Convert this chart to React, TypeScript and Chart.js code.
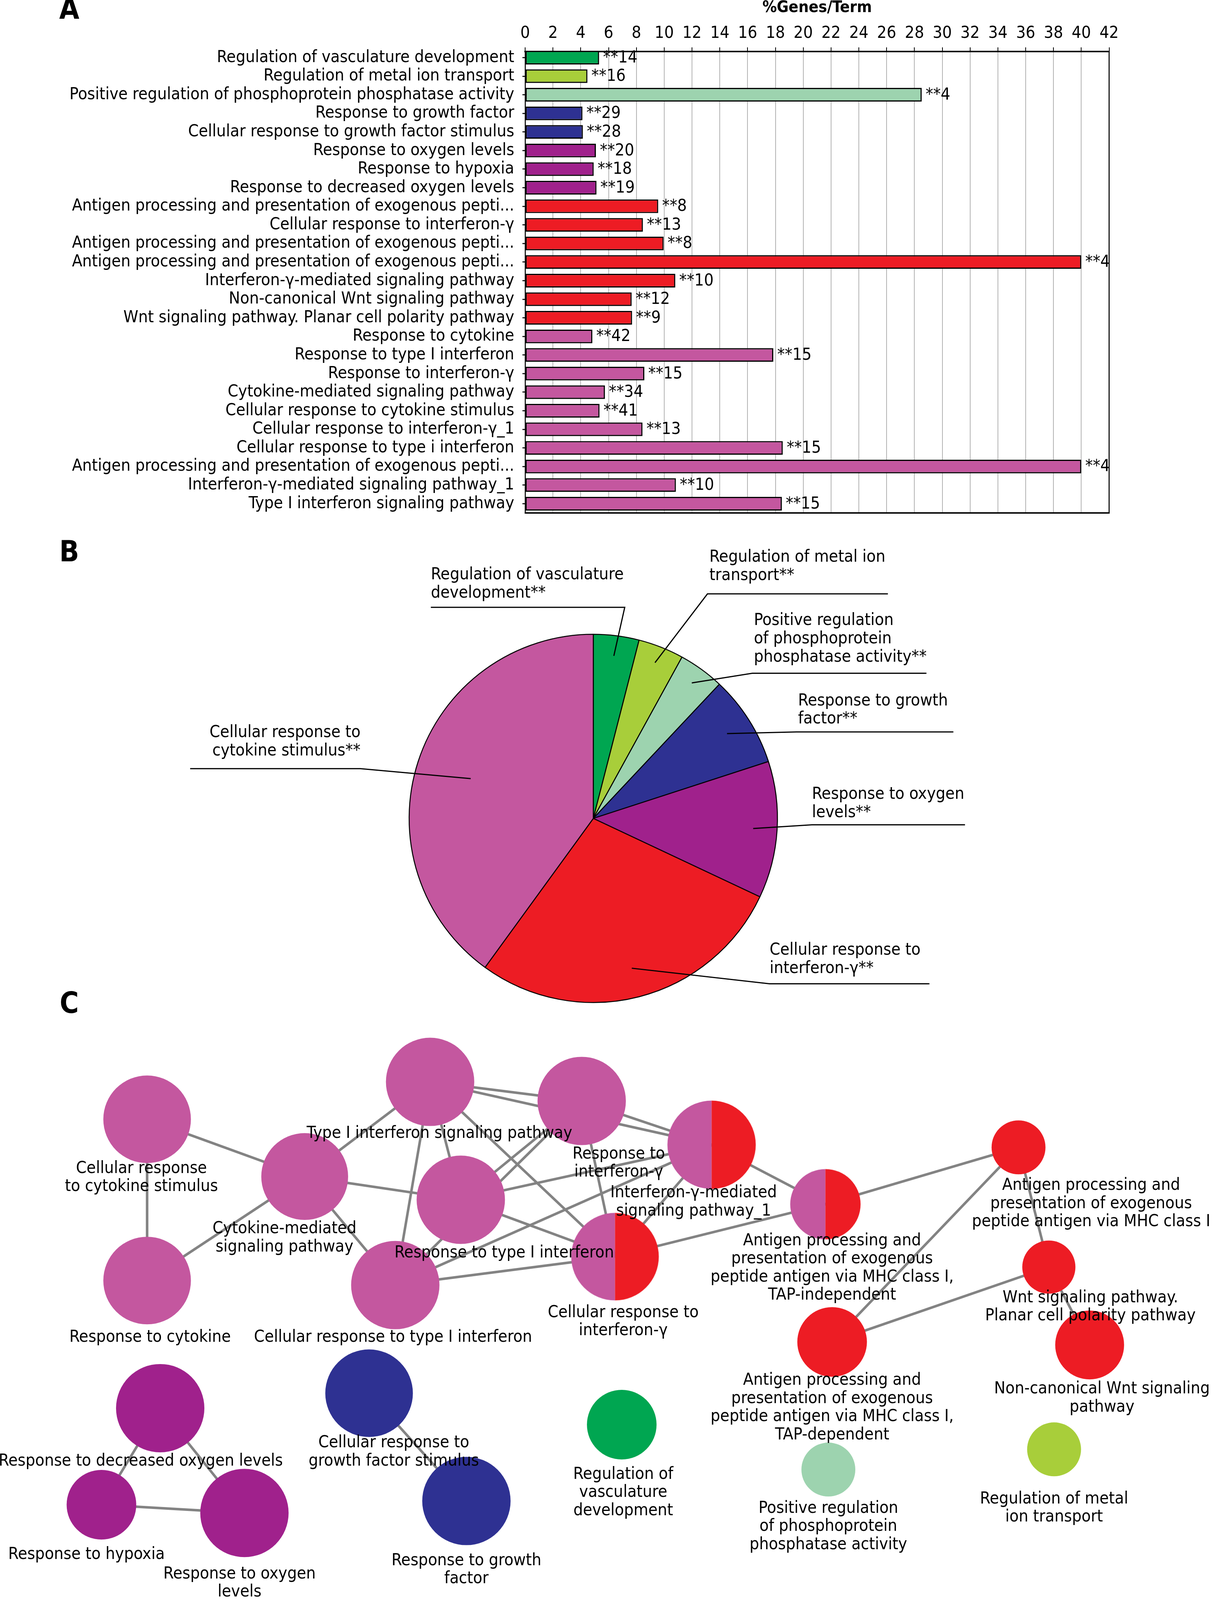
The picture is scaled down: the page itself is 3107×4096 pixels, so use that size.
import React, { useEffect, useRef } from "react";
import { Chart, registerables } from "chart.js";

Chart.register(...registerables);

// ---------- global geometry (reference px -> window px) ----------
const S = 0.958;
const W = 3107;
const H = 4096;
const FONT = "'DejaVu Sans Condensed', 'Liberation Sans Narrow', 'DejaVu Sans', sans-serif";
const FS = 43;

// ---------- Panel A data ----------
const categories = [
  "Regulation of vasculature development",
  "Regulation of metal ion transport",
  "Positive regulation of phosphoprotein phosphatase activity",
  "Response to growth factor",
  "Cellular response to growth factor stimulus",
  "Response to oxygen levels",
  "Response to hypoxia",
  "Response to decreased oxygen levels",
  "Antigen processing and presentation of exogenous pepti...",
  "Cellular response to interferon-γ",
  "Antigen processing and presentation of exogenous pepti...",
  "Antigen processing and presentation of exogenous pepti...",
  "Interferon-γ-mediated signaling pathway",
  "Non-canonical Wnt signaling pathway",
  "Wnt signaling pathway. Planar cell polarity pathway",
  "Response to cytokine",
  "Response to type I interferon",
  "Response to interferon-γ",
  "Cytokine-mediated signaling pathway",
  "Cellular response to cytokine stimulus",
  "Cellular response to interferon-γ_1",
  "Cellular response to type i interferon",
  "Antigen processing and presentation of exogenous pepti...",
  "Interferon-γ-mediated signaling pathway_1",
  "Type I interferon signaling pathway",
];
const percentGenes = [
  5.32, 4.48, 28.52, 4.12, 4.15, 5.09, 4.93, 5.13, 9.57, 8.47, 9.96, 40.0, 10.8,
  7.66, 7.69, 4.83, 17.85, 8.57, 5.74, 5.35, 8.44, 18.53, 40.0, 10.84, 18.46,
];
const geneCounts = [
  14, 16, 4, 29, 28, 20, 18, 19, 8, 13, 8, 4, 10, 12, 9, 42, 15, 15, 34, 41, 13, 15, 4, 10, 15,
];
const categoryGroup = [0, 1, 2, 3, 3, 4, 4, 4, 5, 5, 5, 5, 5, 5, 5, 6, 6, 6, 6, 6, 6, 6, 6, 6, 6];
const xAxisMin = 0;
const xAxisMax = 42;
const xAxisStep = 2;

const groupColors = ["#00A651", "#A8CE3A", "#9DD3AF", "#2E3192", "#A0218C", "#ED1C24", "#C4579F"];
const SPLIT = 7; // node drawn half pink / half red

// ---------- Panel B data ----------
const pieCategoryLines = [
  ["Regulation of vasculature", "development**"],
  ["Regulation of metal ion", "transport**"],
  ["Positive regulation", "of phosphoprotein", "phosphatase activity**"],
  ["Response to growth", "factor**"],
  ["Response to oxygen", "levels**"],
  ["Cellular response to", "interferon-γ**"],
  ["Cellular response to", "cytokine stimulus**"],
];
const pieTermCounts = [1, 1, 1, 2, 3, 7, 10];

// ---------- Panel C data ----------
const nodeLabelLines = [
  ["Cellular response", "to cytokine stimulus"],
  ["Response to cytokine"],
  ["Cytokine-mediated", "signaling pathway"],
  ["Type I interferon signaling pathway"],
  ["Response to", "interferon-γ"],
  ["Interferon-γ-mediated", "signaling pathway_1"],
  ["Response to type I interferon"],
  ["Cellular response to type I interferon"],
  ["Cellular response to", "interferon-γ"],
  ["Antigen processing and", "presentation of exogenous", "peptide antigen via MHC class I,", "TAP-independent"],
  ["Antigen processing and", "presentation of exogenous", "peptide antigen via MHC class I"],
  ["Wnt signaling pathway.", "Planar cell polarity pathway"],
  ["Antigen processing and", "presentation of exogenous", "peptide antigen via MHC class I,", "TAP-dependent"],
  ["Non-canonical Wnt signaling", "pathway"],
  ["Response to decreased oxygen levels"],
  ["Response to hypoxia"],
  ["Response to oxygen", "levels"],
  ["Cellular response to", "growth factor stimulus"],
  ["Response to growth", "factor"],
  ["Regulation of", "vasculature", "development"],
  ["Positive regulation", "of phosphoprotein", "phosphatase activity"],
  ["Regulation of metal", "ion transport"],
];
const nodeX = [393, 393, 814, 1149, 1554, 1901, 1231, 1056, 1643, 2205, 2721, 2802, 2223, 2911, 428, 271, 653, 986, 1246, 1661, 2213, 2816];
const nodeY = [2991, 3422, 3144, 2891, 2942, 3059, 3206, 3434, 3358, 3218, 3066, 3386, 3586, 3594, 3763, 4021, 4043, 3723, 4011, 3807, 3927, 3873];
const nodeSize = [117, 117, 116, 118, 118, 118, 118, 118, 117, 94, 72, 71, 93, 92, 118, 93, 118, 117, 118, 93, 72, 72];
const nodeGroup = [6, 6, 6, 6, 6, SPLIT, 6, 6, SPLIT, SPLIT, 5, 5, 5, 5, 4, 4, 4, 3, 3, 0, 2, 1];
const edgeFrom = [0, 0, 1, 2, 2, 2, 3, 3, 4, 3, 3, 3, 4, 4, 4, 5, 5, 5, 5, 6, 7, 8, 9, 10, 10, 11, 11, 14, 14, 15, 17];
const edgeTo = [2, 1, 2, 3, 6, 7, 4, 5, 5, 6, 7, 8, 6, 7, 8, 6, 7, 8, 9, 8, 8, 9, 10, 11, 12, 12, 13, 15, 16, 16, 18];

// ---------- layout (reference coordinates) ----------
const A_TOP = 0;
const A_H = 1360;
const B_TOP = 1340;
const B_H = 1240;
const C_TOP = 2480;
const C_H = H - C_TOP;

const PIE_CX = 1585;
const PIE_CY = 2187;
const PIE_R = 492;
const PIE_BW = 2.5;

// leader-line layout for pie labels (reference px)
const pieLabelLayout = [
  { tx: 1151, ty: 1536, align: "left", ex: 1669, ey: 1623, lx: 1151, rf: 0.89 },
  { tx: 1895, ty: 1489, align: "left", ex: 1890, ey: 1587, lx: 2372, rf: 0.91 },
  { tx: 2014, ty: 1659, align: "left", ex: 2010, ey: 1799, lx: 2475, rf: 0.91 },
  { tx: 2132, ty: 1873, align: "left", ex: 2128, ey: 1956, lx: 2547, rf: 0.86 },
  { tx: 2169, ty: 2123, align: "left", ex: 2169, ey: 2204, lx: 2578, rf: 0.87 },
  { tx: 2056, ty: 2540, align: "left", ex: 2056, ey: 2629, lx: 2483, rf: 0.84 },
  { tx: 963, ty: 1958, align: "right", ex: 963, ey: 2054, lx: 508, rf: 0.7 },
];

// node label anchors (reference px: centre x, first line centre y)
const nodeLabelPos = [
  [378, 3123], [401, 3574], [760, 3284], [1174, 3029], [1653, 3084], [1853, 3188],
  [1347, 3348], [1050, 3574], [1665, 3508], [2223, 3316], [2915, 3168], [2913, 3468],
  [2223, 3689], [2944, 3712], [376, 3905], [231, 4154], [640, 4206], [1052, 3856],
  [1246, 4171], [1665, 3940], [2213, 4031], [2816, 4006],
];

Chart.defaults.font.family = FONT;
Chart.defaults.font.size = FS;
Chart.defaults.color = "#000";

function drawLetter(ctx: CanvasRenderingContext2D, letter: string, x: number, y: number) {
  ctx.save();
  ctx.font = `bold 74px ${FONT}`;
  ctx.fillStyle = "#000";
  ctx.textAlign = "center";
  ctx.textBaseline = "middle";
  ctx.fillText(letter, x, y);
  ctx.restore();
}

// half pink / half red marker image used as point style
function makeSplitMarker(r: number): HTMLCanvasElement {
  const size = Math.ceil(2 * r) + 2;
  const c = document.createElement("canvas");
  c.width = size;
  c.height = size;
  const g = c.getContext("2d") as CanvasRenderingContext2D;
  const m = size / 2;
  g.fillStyle = groupColors[6];
  g.beginPath();
  g.moveTo(m, m);
  g.arc(m, m, r, Math.PI / 2, (3 * Math.PI) / 2);
  g.closePath();
  g.fill();
  g.fillStyle = groupColors[5];
  g.beginPath();
  g.moveTo(m, m);
  g.arc(m, m, r, -Math.PI / 2, Math.PI / 2);
  g.closePath();
  g.fill();
  return c;
}

const barPlugin = {
  id: "barExtras",
  afterDatasetsDraw(chart: any) {
    const ctx = chart.ctx as CanvasRenderingContext2D;
    const meta = chart.getDatasetMeta(0);
    const a = chart.chartArea;
    ctx.save();
    ctx.font = `${FS}px ${FONT}`;
    ctx.fillStyle = "#000";
    ctx.textAlign = "left";
    ctx.textBaseline = "middle";
    meta.data.forEach((bar: any, i: number) => {
      ctx.fillText("**" + geneCounts[i], bar.x + 10, bar.y + 1);
    });
    ctx.strokeStyle = "#000";
    ctx.lineWidth = 2.6;
    ctx.beginPath();
    ctx.moveTo(a.right, a.top);
    ctx.lineTo(a.right, a.bottom);
    ctx.stroke();
    ctx.lineWidth = 3.8;
    ctx.beginPath();
    ctx.moveTo(a.left - 1.3, a.bottom);
    ctx.lineTo(a.right + 1.3, a.bottom);
    ctx.stroke();
    ctx.restore();
    drawLetter(ctx, "A", 185 * S, 30 * S - A_TOP);
  },
};

const piePlugin = {
  id: "pieLabels",
  afterDatasetsDraw(chart: any) {
    const ctx = chart.ctx as CanvasRenderingContext2D;
    const arcs = chart.getDatasetMeta(0).data;
    const lh = 49 * S;
    ctx.save();
    ctx.strokeStyle = "#000";
    ctx.lineWidth = 3;
    ctx.fillStyle = "#000";
    ctx.font = `${FS}px ${FONT}`;
    ctx.textBaseline = "middle";
    arcs.forEach((arc: any, i: number) => {
      const L = pieLabelLayout[i];
      const mid = (arc.startAngle + arc.endAngle) / 2;
      const r = arc.outerRadius * L.rf;
      const px = arc.x + Math.cos(mid) * r;
      const py = arc.y + Math.sin(mid) * r;
      const ex = L.ex * S;
      const ey = L.ey * S - B_TOP;
      ctx.beginPath();
      ctx.moveTo(px, py);
      ctx.lineTo(ex, ey);
      ctx.lineTo(L.lx * S, ey);
      ctx.stroke();
      ctx.textAlign = L.align as CanvasTextAlign;
      pieCategoryLines[i].forEach((t, k) => {
        ctx.fillText(t, L.tx * S, L.ty * S - B_TOP + k * lh);
      });
    });
    ctx.restore();
    drawLetter(ctx, "B", 185 * S, 1480 * S - B_TOP);
  },
};

const netPlugin = {
  id: "netLabels",
  afterDatasetsDraw(chart: any) {
    const ctx = chart.ctx as CanvasRenderingContext2D;
    const xs = chart.scales.x;
    const ys = chart.scales.y;
    const lh = 48.5 * S;
    ctx.save();
    ctx.fillStyle = "#000";
    ctx.font = `${FS}px ${FONT}`;
    ctx.textAlign = "center";
    ctx.textBaseline = "middle";
    nodeLabelLines.forEach((lines, i) => {
      const x = xs.getPixelForValue(nodeLabelPos[i][0]);
      const y = ys.getPixelForValue(nodeLabelPos[i][1]);
      lines.forEach((t, k) => ctx.fillText(t, x, y + k * lh));
    });
    ctx.restore();
    drawLetter(ctx, "C", xs.getPixelForValue(185), ys.getPixelForValue(2687));
  },
};

export default function App() {
  const refA = useRef<HTMLCanvasElement>(null);
  const refB = useRef<HTMLCanvasElement>(null);
  const refC = useRef<HTMLCanvasElement>(null);

  useEffect(() => {
    document.body.style.margin = "0";
    document.body.style.overflow = "hidden";

    // ---------- Panel A: horizontal bars ----------
    const chartA = new Chart(refA.current as HTMLCanvasElement, {
      type: "bar",
      data: {
        datasets: [
          {
            data: percentGenes.map((v, i) => ({ x: v, y: i })),
            backgroundColor: categoryGroup.map((g) => groupColors[g]),
            borderColor: "#000",
            borderWidth: 3.2,
            borderSkipped: false,
            barPercentage: 0.735,
            categoryPercentage: 1,
          } as any,
        ],
      },
      options: {
        indexAxis: "y",
        responsive: false,
        animation: false,
        events: [],
        layout: { autoPadding: false, padding: { left: 0, right: W - 2963 * S, top: 0, bottom: A_H - 1372 * S } },
        plugins: { legend: { display: false }, tooltip: { enabled: false } },
        scales: {
          x: {
            type: "linear",
            position: "top",
            min: xAxisMin,
            max: xAxisMax,
            offset: false,
            ticks: { stepSize: xAxisStep, autoSkip: false, maxRotation: 0, padding: 10, color: "#000", font: { size: FS } },
            grid: { color: "#b3b3b3", lineWidth: 2, tickColor: "#000", tickLength: 11, tickWidth: 2 },
            border: { color: "#000", width: 3.8 },
            title: {
              display: true,
              text: "%Genes/Term",
              color: "#000",
              font: { size: 41, weight: "bold" },
              padding: { top: -4, bottom: 0 },
            },
            afterFit: (s: any) => {
              s.height = 138 * S;
            },
          } as any,
          y: {
            type: "linear",
            reverse: true,
            min: -0.32,
            max: 24.5,
            offset: false,
            ticks: {
              stepSize: 1,
              autoSkip: false,
              includeBounds: false,
              maxTicksLimit: 100,
              padding: 21,
              color: "#000",
              font: { size: FS },
              callback: (v: any) => (Number.isInteger(v) ? categories[v] ?? "" : ""),
            },
            grid: { drawOnChartArea: false, tickLength: 7, tickColor: "#000", tickWidth: 2.6, offset: false },
            border: { color: "#000", width: 2.6 },
            afterFit: (s: any) => {
              s.width = 1403 * S;
            },
          } as any,
        },
      },
      plugins: [barPlugin],
    });

    // ---------- Panel B: pie ----------
    const half = PIE_R * S + PIE_BW / 2;
    const cx = PIE_CX * S;
    const cy = PIE_CY * S - B_TOP;
    const chartB = new Chart(refB.current as HTMLCanvasElement, {
      type: "pie",
      data: {
        labels: pieCategoryLines.map((l) => l.join(" ")),
        datasets: [
          {
            data: pieTermCounts,
            backgroundColor: groupColors,
            borderColor: "#000",
            borderWidth: PIE_BW,
          },
        ],
      },
      options: {
        responsive: false,
        animation: false,
        events: [],
        layout: { autoPadding: false, padding: { left: cx - half, right: W - (cx + half), top: cy - half, bottom: B_H - (cy + half) } },
        plugins: { legend: { display: false }, tooltip: { enabled: false } },
      },
      plugins: [piePlugin],
    });

    // ---------- Panel C: network ----------
    const markers = nodeSize.map((r, i) => (nodeGroup[i] === SPLIT ? makeSplitMarker(r * S) : null));
    const edgeSets = edgeFrom.map((a, k) => ({
      type: "line",
      data: [
        { x: nodeX[a], y: nodeY[a] },
        { x: nodeX[edgeTo[k]], y: nodeY[edgeTo[k]] },
      ],
      borderColor: "#838383",
      borderWidth: 6.5,
      pointRadius: 0,
      order: 2,
      clip: false,
    }));
    const chartC = new Chart(refC.current as HTMLCanvasElement, {
      type: "bubble",
      data: {
        datasets: [
          ...(edgeSets as any[]),
          {
            type: "bubble",
            data: nodeX.map((x, i) => ({ x, y: nodeY[i], r: nodeSize[i] * S })),
            backgroundColor: nodeGroup.map((g) => (g === SPLIT ? groupColors[6] : groupColors[g])),
            pointStyle: (c: any) => {
              if (c.type !== "data") return "circle";
              return markers[c.dataIndex] || "circle";
            },
            borderWidth: 0,
            order: 1,
            clip: false,
          } as any,
        ],
      },
      options: {
        responsive: false,
        animation: false,
        events: [],
        layout: { autoPadding: false, padding: 0 },
        plugins: { legend: { display: false }, tooltip: { enabled: false } },
        scales: {
          x: { type: "linear", display: false, min: 0, max: W / S },
          y: { type: "linear", display: false, reverse: true, min: C_TOP / S, max: H / S },
        },
      },
      plugins: [netPlugin],
    });

    return () => {
      chartA.destroy();
      chartB.destroy();
      chartC.destroy();
    };
  }, []);

  const cs = (top: number, h: number): React.CSSProperties => ({
    position: "absolute",
    left: 0,
    top,
    width: W,
    height: h,
  });

  return (
    <div style={{ position: "absolute", left: 0, top: 0, width: W, height: H, background: "#fff", overflow: "hidden" }}>
      <canvas ref={refC} width={W} height={C_H} style={cs(C_TOP, C_H)} />
      <canvas ref={refB} width={W} height={B_H} style={cs(B_TOP, B_H)} />
      <canvas ref={refA} width={W} height={A_H} style={cs(A_TOP, A_H)} />
    </div>
  );
}
